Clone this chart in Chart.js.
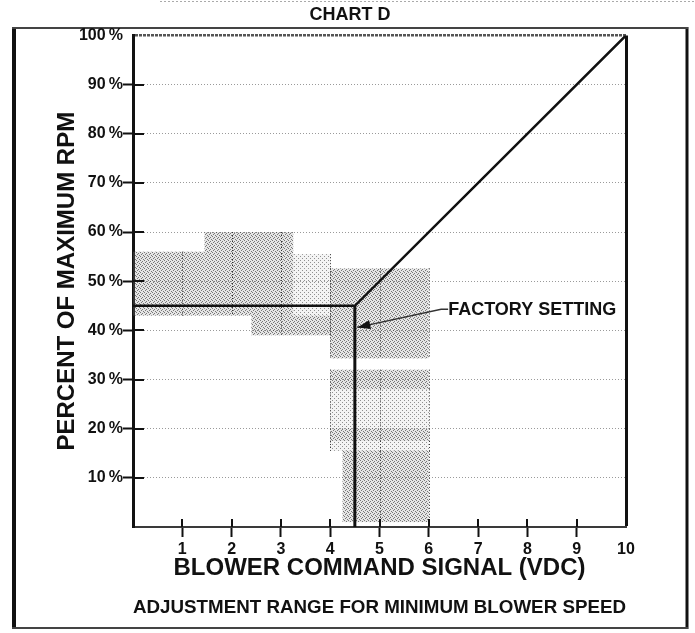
<!DOCTYPE html>
<html>
<head>
<meta charset="utf-8">
<title>Chart D</title>
<script src="https://cdn.jsdelivr.net/npm/chart.js@4.4.1/dist/chart.umd.min.js"></script>
<style>
  html, body { margin: 0; padding: 0; background: #fff; }
  #chart { display: block; }
</style>
</head>
<body>
<canvas id="chart" width="695" height="633"></canvas>
<script>
// blower curve: flat at the minimum setting, then up to full speed at 10 V
const signalVdc = [0, 4.5, 10];
const rpmPercent = [45, 45, 100];

// drop line from the factory setting down to the axis
const factoryVdc = [4.5, 4.5];
const factoryRpm = [45, 0];

const voltTicks = [1, 2, 3, 4, 5, 6, 7, 8, 9, 10];
const rpmTicks = [10, 20, 30, 40, 50, 60, 70, 80, 90, 100];

// shaded adjustment range, [fromVdc, toVdc, fromPct, toPct]
const rangeBlocks = [
  [0, 1.45, 43, 56],
  [1.45, 3.25, 43, 60],
  [2.4, 4.0, 39, 43],
  [4.0, 6.0, 34.3, 52.6],
  [4.0, 6.0, 28, 32],
  [4.0, 6.0, 17.5, 20],
  [4.25, 6.0, 1, 15.5]
];
const rangeBlocksLight = [
  [3.25, 4.0, 43, 52.6],
  [3.25, 4.0, 52.6, 55.5],
  [4.0, 6.0, 20, 28],
  [4.0, 6.0, 15.5, 17.5]
];

// callout for the factory setting
const factoryLabel = { x: 6.25, y: 44.3, text: 'FACTORY SETTING' };
const factoryArrowTip = { x: 4.55, y: 40.6 };

const FONT = "'Liberation Sans', Arial, sans-serif";
const INK = '#111';

function stipple(ctx, dots, alpha, base) {
  const c = document.createElement('canvas');
  c.width = c.height = 4;
  const g = c.getContext('2d');
  g.fillStyle = 'rgba(150,150,150,' + base + ')';
  g.fillRect(0, 0, 4, 4);
  g.fillStyle = 'rgba(45,45,45,' + alpha + ')';
  dots.forEach(([px, py]) => g.fillRect(px, py, 1, 1));
  return ctx.createPattern(c, 'repeat');
}

const framePlugin = {
  id: 'frame',
  beforeDraw(chart) {
    const { ctx, width, height } = chart;
    ctx.save();
    ctx.fillStyle = '#fff';
    ctx.fillRect(0, 0, width, height);
    ctx.strokeStyle = INK;
    ctx.lineWidth = 4;
    ctx.beginPath(); ctx.moveTo(14, 27); ctx.lineTo(14, height - 4); ctx.stroke();
    ctx.lineWidth = 3;
    ctx.beginPath(); ctx.moveTo(width - 8, 27); ctx.lineTo(width - 8, height - 4); ctx.stroke();
    ctx.strokeStyle = '#444';
    ctx.lineWidth = 2;
    ctx.beginPath(); ctx.moveTo(12, 28); ctx.lineTo(width - 7, 28); ctx.stroke();
    ctx.beginPath(); ctx.moveTo(12, height - 5); ctx.lineTo(width - 7, height - 5); ctx.stroke();
    // edge of the next panel above
    ctx.strokeStyle = '#aaa';
    ctx.lineWidth = 1;
    ctx.setLineDash([2, 2]);
    ctx.beginPath(); ctx.moveTo(160, 1.5); ctx.lineTo(width, 1.5); ctx.stroke();
    ctx.restore();
  }
};

const rangePlugin = {
  id: 'adjustRange',
  beforeDatasetsDraw(chart) {
    const { ctx, scales: { x, y } } = chart;
    const dense = stipple(ctx, [[0, 0], [2, 1], [1, 2], [3, 3]], 0.6, 0.25);
    const light = stipple(ctx, [[0, 0], [2, 2]], 0.5, 0.1);
    const paint = (blocks, fill) => blocks.forEach(([x0, x1, y0, y1]) => {
      const l = x.getPixelForValue(x0), r = x.getPixelForValue(x1);
      const t = y.getPixelForValue(y1), b = y.getPixelForValue(y0);
      ctx.fillStyle = fill;
      ctx.fillRect(l, t, r - l, b - t);
      // dotted guides at each whole volt inside the block
      ctx.strokeStyle = '#333';
      ctx.lineWidth = 1;
      ctx.setLineDash([1, 2]);
      for (let v = Math.ceil(x0); v <= x1; v++) {
        if (v === 0) continue;
        const px = Math.round(x.getPixelForValue(v)) + 0.5;
        ctx.beginPath(); ctx.moveTo(px, t); ctx.lineTo(px, b); ctx.stroke();
      }
      ctx.setLineDash([]);
    });
    ctx.save();
    paint(rangeBlocksLight, light);
    paint(rangeBlocks, dense);
    ctx.restore();
  }
};

const calloutPlugin = {
  id: 'callout',
  afterDatasetsDraw(chart) {
    const { ctx, scales: { x, y } } = chart;
    ctx.save();
    // tick marks carried through to the inside of the axes
    ctx.strokeStyle = INK;
    ctx.lineWidth = 2;
    rpmTicks.filter(v => v < 100).forEach(v => {
      const py = Math.round(y.getPixelForValue(v));
      ctx.beginPath(); ctx.moveTo(x.left, py); ctx.lineTo(x.left + 11, py); ctx.stroke();
    });
    voltTicks.filter(v => v < 10).forEach(v => {
      const px = Math.round(x.getPixelForValue(v));
      ctx.beginPath(); ctx.moveTo(px, y.bottom); ctx.lineTo(px, y.bottom - 8); ctx.stroke();
    });

    // leader and arrow
    const lx = x.getPixelForValue(factoryLabel.x), ly = y.getPixelForValue(factoryLabel.y);
    const ax = x.getPixelForValue(factoryArrowTip.x), ay = y.getPixelForValue(factoryArrowTip.y);
    ctx.strokeStyle = '#333';
    ctx.lineWidth = 1.4;
    ctx.beginPath(); ctx.moveTo(lx + 7, ly); ctx.lineTo(lx, ly); ctx.lineTo(ax, ay); ctx.stroke();
    const ang = Math.atan2(ay - ly, ax - lx);
    const len = 13, half = 4.5;
    ctx.fillStyle = INK;
    ctx.beginPath();
    ctx.moveTo(ax, ay);
    ctx.lineTo(ax - len * Math.cos(ang) - half * Math.sin(ang), ay - len * Math.sin(ang) + half * Math.cos(ang));
    ctx.lineTo(ax - len * Math.cos(ang) + half * Math.sin(ang), ay - len * Math.sin(ang) - half * Math.cos(ang));
    ctx.closePath();
    ctx.fill();

    ctx.font = 'bold 18px ' + FONT;
    ctx.fillStyle = INK;
    ctx.textAlign = 'left';
    ctx.textBaseline = 'middle';
    ctx.fillText(factoryLabel.text, lx + 7, ly + 1);
    ctx.restore();
  }
};

const ctx = document.getElementById('chart').getContext('2d');

new Chart(ctx, {
  type: 'scatter',
  data: {
    datasets: [
      {
        data: signalVdc.map((v, i) => ({ x: v, y: rpmPercent[i] })),
        showLine: true,
        borderColor: INK,
        borderWidth: 2.5,
        borderJoinStyle: 'miter',
        pointRadius: 0
      },
      {
        data: factoryVdc.map((v, i) => ({ x: v, y: factoryRpm[i] })),
        showLine: true,
        borderColor: INK,
        borderWidth: 3,
        pointRadius: 0
      }
    ]
  },
  options: {
    responsive: false,
    animation: false,
    layout: { padding: { left: 74, right: 69, top: 0, bottom: 0 } },
    plugins: {
      legend: { display: false },
      tooltip: { enabled: false },
      title: {
        display: true,
        text: 'CHART D',
        color: INK,
        font: { family: FONT, size: 18, weight: 'bold' },
        padding: { top: 4, bottom: 9.8 }
      },
      subtitle: {
        display: true,
        position: 'bottom',
        fullSize: false,
        text: 'ADJUSTMENT RANGE FOR MINIMUM BLOWER SPEED',
        color: INK,
        font: { family: FONT, size: 19, weight: 'bold' },
        padding: { top: 7.6, bottom: 13.6 }
      }
    },
    scales: {
      x: {
        type: 'linear',
        min: 0,
        max: 10,
        afterBuildTicks: s => { s.ticks = [0, ...voltTicks].map(v => ({ value: v })); },
        afterFit: s => { s.height = 62; },
        grid: {
          color: c => (c.tick && c.tick.value === 10) ? INK : 'rgba(0,0,0,0)',
          lineWidth: c => (c.tick && c.tick.value === 10) ? 3 : 1,
          tickLength: 10,
          tickWidth: 2,
          tickColor: c => (c.tick && c.tick.value > 0 && c.tick.value < 10) ? INK : 'rgba(0,0,0,0)'
        },
        border: { color: '#3a3a3a', width: 2 },
        ticks: {
          autoSkip: false,
          maxRotation: 0,
          padding: 3,
          color: INK,
          font: { family: FONT, size: 16, weight: 'bold' },
          callback: v => v === 0 ? '' : String(v)
        },
        title: {
          display: true,
          text: 'BLOWER COMMAND SIGNAL (VDC)',
          color: INK,
          font: { family: FONT, size: 24, weight: 'bold' },
          padding: { top: 0, bottom: 6 }
        }
      },
      y: {
        min: 0,
        max: 100,
        afterBuildTicks: s => { s.ticks = [0, ...rpmTicks].map(v => ({ value: v })); },
        afterFit: s => { s.width = 59; },
        grid: {
          color: c => {
            if (!c.tick || c.tick.value === 0) return 'rgba(0,0,0,0)';
            return c.tick.value === 100 ? '#555' : '#9a9a9a';
          },
          lineWidth: c => (c.tick && c.tick.value === 100) ? 2.5 : 1,
          tickLength: 10,
          tickWidth: 2,
          tickColor: c => (c.tick && c.tick.value > 0 && c.tick.value < 100) ? INK : 'rgba(0,0,0,0)',
          tickBorderDash: []
        },
        border: {
          color: INK,
          width: 3,
          dash: c => (c.tick && c.tick.value === 100) ? [3, 1] : [1, 2]
        },
        ticks: {
          padding: 0,
          color: INK,
          font: { family: FONT, size: 16, weight: 'bold' },
          callback: v => v === 0 ? '' : v + '\u2009%'
        },
        title: {
          display: true,
          text: 'PERCENT OF MAXIMUM RPM',
          color: INK,
          font: { family: FONT, size: 24, weight: 'bold' },
          padding: { top: -21, bottom: 0 }
        }
      }
    }
  },
  plugins: [framePlugin, rangePlugin, calloutPlugin]
});
</script>
</body>
</html>
